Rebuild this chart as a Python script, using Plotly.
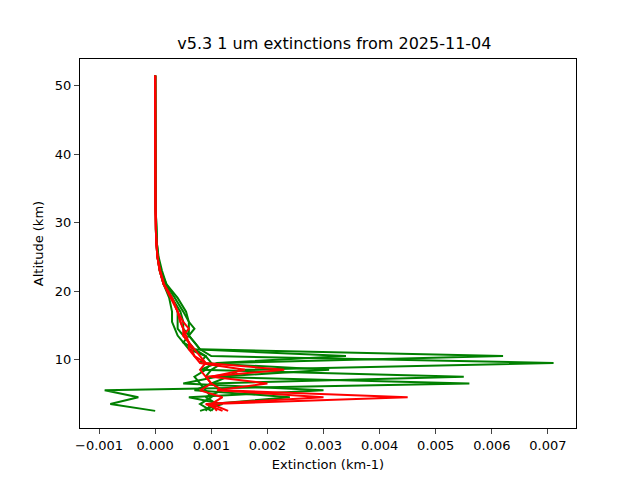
import plotly.graph_objects as go

# altitude levels (km)
altitude = [2.5, 3.5, 4.5, 5.5, 6.5, 7.5, 8.5, 9.5, 10.5, 11.5, 12.5, 13.5, 14.5, 15.5,
            17, 19, 21, 23, 25, 27, 29, 32, 36, 40, 45, 51.5]

# extinction profiles, units of 1e-3 km-1
green_profiles = [
    [1.0, 1.1, 0.9, 1.2, 1.0, 1.3, 1.5, 7.1, 1.0, 0.8, 0.7, 0.6, 0.6, 0.6, 0.5, 0.35, 0.2, 0.12, 0.06, 0.03, 0.02, 0.01, 0.005, 0.003, 0.002, 0.001],
    [0.0, -0.8, -0.3, -0.9, 5.6, 0.9, 1.0, 1.2, 6.2, 0.8, 0.7, 0.6, 0.5, 0.5, 0.45, 0.3, 0.18, 0.1, 0.05, 0.03, 0.02, 0.01, 0.005, 0.003, 0.002, 0.001],
    [0.9, 1.0, 2.4, 0.7, 1.0, 5.5, 0.8, 1.1, 3.4, 0.7, 0.6, 0.5, 0.4, 0.4, 0.4, 0.3, 0.15, 0.08, 0.04, 0.02, 0.015, 0.01, 0.004, 0.003, 0.002, 0.001],
    [0.8, 1.2, 0.6, 3.0, 0.5, 1.1, 3.1, 0.8, 0.9, 0.6, 0.5, 0.4, 0.35, 0.3, 0.3, 0.25, 0.15, 0.08, 0.04, 0.02, 0.01, 0.008, 0.004, 0.002, 0.001, 0.0],
    [1.0, 0.8, 1.0, 0.9, 0.8, 0.7, 0.9, 1.0, 0.9, 0.7, 0.5, 0.6, 0.7, 0.6, 0.55, 0.4, 0.2, 0.1, 0.05, 0.03, 0.02, 0.01, 0.005, 0.003, 0.002, 0.001],
]
red_profiles = [
    [1.3, 1.0, 4.5, 1.2, 1.0, 0.9, 0.8, 0.9, 0.7, 0.6, 0.6, 0.5, 0.5, 0.45, 0.4, 0.3, 0.15, 0.08, 0.04, 0.02, 0.01, 0.005, 0.003, 0.002, 0.001, 0.0],
    [1.2, 0.9, 3.0, 1.1, 2.0, 1.0, 1.6, 0.8, 0.7, 0.65, 0.6, 0.55, 0.5, 0.45, 0.4, 0.28, 0.15, 0.08, 0.04, 0.02, 0.01, 0.005, 0.003, 0.002, 0.001, 0.0],
    [1.1, 1.0, 1.2, 0.8, 1.0, 0.9, 2.3, 0.9, 0.8, 0.7, 0.6, 0.5, 0.6, 0.5, 0.4, 0.3, 0.16, 0.09, 0.04, 0.02, 0.01, 0.005, 0.003, 0.002, 0.001, 0.0],
]

fig = go.Figure()
for g in green_profiles:
    fig.add_trace(go.Scatter(x=[v * 1e-3 for v in g], y=altitude, mode="lines",
                             line=dict(color="green", width=2), showlegend=False))
for r in red_profiles:
    fig.add_trace(go.Scatter(x=[v * 1e-3 for v in r], y=altitude, mode="lines",
                             line=dict(color="red", width=2), showlegend=False))

axis_style = dict(showline=True, linecolor="black", mirror=True, ticks="outside",
                  showgrid=False, zeroline=False, automargin=False,
                  tickfont=dict(size=13, color="black"))
fig.update_layout(
    width=640, height=480,
    margin=dict(l=72, r=72, t=51, b=60),
    plot_bgcolor="white", paper_bgcolor="white",
    font=dict(family="DejaVu Sans", color="black"),
    title=dict(text="v5.3 1 um extinctions from 2025-11-04", x=0.51, xanchor="center",
               yref="container", y=0.915, yanchor="bottom", automargin=False,
               font=dict(size=16)),
    xaxis=dict(title=dict(text="Extinction (km-1)", font=dict(size=13), standoff=8),
               range=[-0.00134, 0.0075], tickvals=[i * 1e-3 for i in range(-1, 8)],
               tickformat=".3f", **axis_style),
    yaxis=dict(title=dict(text="Altitude (km)", font=dict(size=13), standoff=8),
               range=[0, 53.9], tickvals=[10, 20, 30, 40, 50], **axis_style),
)
fig.write_html("out.html")
